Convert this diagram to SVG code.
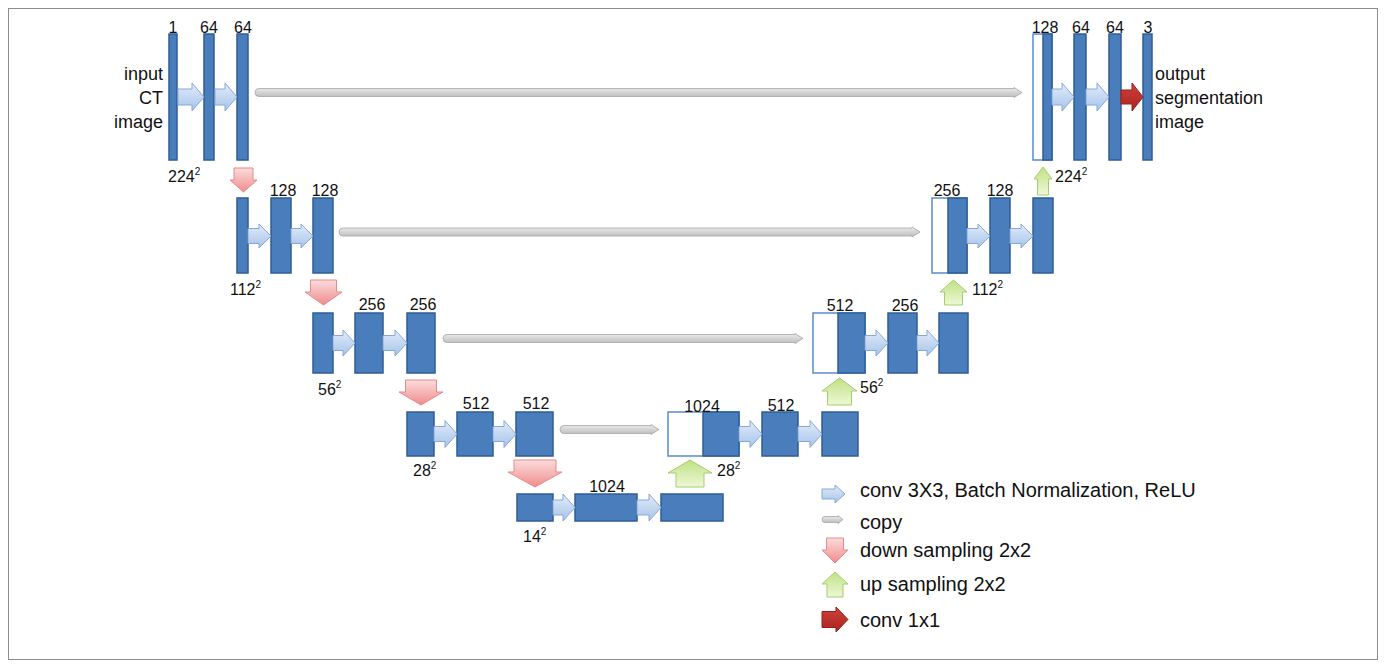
<svg xmlns="http://www.w3.org/2000/svg" width="1386" height="667" viewBox="0 0 1386 667">
<defs>
<linearGradient id="gBlue" x1="0" y1="0" x2="0" y2="1"><stop offset="0" stop-color="#e2ecf9"/><stop offset="1" stop-color="#a6c3ea"/></linearGradient>
<linearGradient id="gGray" x1="0" y1="0" x2="0" y2="1"><stop offset="0" stop-color="#ececec"/><stop offset="1" stop-color="#bcbcbc"/></linearGradient>
<linearGradient id="gRed" x1="0" y1="0" x2="0" y2="1"><stop offset="0" stop-color="#fcdcdc"/><stop offset="1" stop-color="#f08c8c"/></linearGradient>
<linearGradient id="gGreen" x1="0" y1="0" x2="0" y2="1"><stop offset="0" stop-color="#bfe184"/><stop offset="1" stop-color="#eef8d6"/></linearGradient>
<linearGradient id="gDark" x1="0" y1="0" x2="0" y2="1"><stop offset="0" stop-color="#d0403a"/><stop offset="1" stop-color="#a82420"/></linearGradient>
</defs>
<style>
.bar{fill:#4a7dbb;stroke:#2f5e96;stroke-width:1.5}
.wb{fill:#ffffff;stroke:#5b8bc9;stroke-width:1.5}
.conv{fill:url(#gBlue);stroke:#86a8d8;stroke-width:1}
.copy{fill:url(#gGray);stroke:#a6a6a6;stroke-width:0.8}
.down{fill:url(#gRed);stroke:#e58a8a;stroke-width:1}
.up{fill:url(#gGreen);stroke:#a7cd6c;stroke-width:1}
.c11{fill:url(#gDark);stroke:#9a1f1c;stroke-width:1}
text{font-family:"Liberation Sans",Arial,sans-serif;fill:#111}
.n{font-size:16px;text-anchor:middle}
.d{font-size:16px}
.s{font-size:10px}
.io{font-size:18px}
.lg{font-size:20px}
</style>
<rect x="8.5" y="8.5" width="1369" height="651" fill="#fff" stroke="#8c8c8c" stroke-width="1"/>

<!-- Level 1 left -->
<g id="n-in1"><rect class="bar" x="169" y="34" width="8" height="126"/><text class="n" x="173" y="33">1</text></g>
<g id="n-e1a"><rect class="bar" x="204" y="34" width="10" height="126"/><text class="n" x="209" y="33">64</text></g>
<g id="n-e1b"><rect class="bar" x="237" y="34" width="11" height="126"/><text class="n" x="243" y="33">64</text></g>
<g id="t-input"><text class="io" x="163" y="80" text-anchor="end">input</text><text class="io" x="163" y="104" text-anchor="end">CT</text><text class="io" x="163" y="128" text-anchor="end">image</text></g>
<g id="t-224a"><text class="d" x="168" y="182">224<tspan class="s" dy="-7">2</tspan></text></g>

<!-- Level 1 right -->
<g id="n-d1cat"><rect class="wb" x="1033" y="34" width="19" height="126"/><rect class="bar" x="1043" y="34" width="9" height="126"/><text class="n" x="1045" y="33">128</text></g>
<g id="n-d1a"><rect class="bar" x="1074" y="34" width="12" height="126"/><text class="n" x="1081" y="33">64</text></g>
<g id="n-d1b"><rect class="bar" x="1109" y="34" width="12" height="126"/><text class="n" x="1115" y="33">64</text></g>
<g id="n-out"><rect class="bar" x="1143" y="34" width="9" height="126"/><text class="n" x="1148" y="33">3</text></g>
<g id="t-output"><text class="io" x="1155" y="80">output</text><text class="io" x="1155" y="104">segmentation</text><text class="io" x="1155" y="128">image</text></g>
<g id="t-224b"><text class="d" x="1055" y="182">224<tspan class="s" dy="-7">2</tspan></text></g>

<!-- Level 2 left -->
<g id="n-e2p"><rect class="bar" x="237" y="198" width="11" height="75"/></g>
<g id="n-e2a"><rect class="bar" x="271" y="198" width="20" height="75"/><text class="n" x="283" y="196">128</text></g>
<g id="n-e2b"><rect class="bar" x="313" y="198" width="20" height="75"/><text class="n" x="325" y="196">128</text></g>
<g id="t-112a"><text class="d" x="230" y="295">112<tspan class="s" dy="-7">2</tspan></text></g>

<!-- Level 2 right -->
<g id="n-d2cat"><rect class="wb" x="932" y="198" width="35" height="75"/><rect class="bar" x="948" y="198" width="19" height="75"/><text class="n" x="947" y="196">256</text></g>
<g id="n-d2a"><rect class="bar" x="990" y="198" width="20" height="75"/><text class="n" x="1000" y="196">128</text></g>
<g id="n-d2b"><rect class="bar" x="1033" y="198" width="20" height="75"/></g>
<g id="t-112b"><text class="d" x="972" y="295">112<tspan class="s" dy="-7">2</tspan></text></g>

<!-- Level 3 left -->
<g id="n-e3p"><rect class="bar" x="313" y="313" width="20" height="60"/></g>
<g id="n-e3a"><rect class="bar" x="355" y="313" width="28" height="60"/><text class="n" x="372" y="310">256</text></g>
<g id="n-e3b"><rect class="bar" x="407" y="313" width="28" height="60"/><text class="n" x="423" y="310">256</text></g>
<g id="t-56a"><text class="d" x="318" y="395">56<tspan class="s" dy="-7">2</tspan></text></g>

<!-- Level 3 right -->
<g id="n-d3cat"><rect class="wb" x="813" y="313" width="52" height="60"/><rect class="bar" x="838" y="313" width="27" height="60"/><text class="n" x="840" y="311">512</text></g>
<g id="n-d3a"><rect class="bar" x="888" y="313" width="29" height="60"/><text class="n" x="905" y="311">256</text></g>
<g id="n-d3b"><rect class="bar" x="939" y="313" width="29" height="60"/></g>
<g id="t-56b"><text class="d" x="860" y="393">56<tspan class="s" dy="-7">2</tspan></text></g>

<!-- Level 4 left -->
<g id="n-e4p"><rect class="bar" x="407" y="412" width="27" height="44"/></g>
<g id="n-e4a"><rect class="bar" x="457" y="412" width="36" height="44"/><text class="n" x="476" y="409">512</text></g>
<g id="n-e4b"><rect class="bar" x="516" y="412" width="37" height="44"/><text class="n" x="536" y="409">512</text></g>
<g id="t-28a"><text class="d" x="413" y="476">28<tspan class="s" dy="-7">2</tspan></text></g>

<!-- Level 4 right -->
<g id="n-d4cat"><rect class="wb" x="668" y="412" width="71" height="44"/><rect class="bar" x="703" y="412" width="36" height="44"/><text class="n" x="702" y="412">1024</text></g>
<g id="n-d4a"><rect class="bar" x="762" y="412" width="36" height="44"/><text class="n" x="781" y="411">512</text></g>
<g id="n-d4b"><rect class="bar" x="822" y="412" width="36" height="44"/></g>
<g id="t-28b"><text class="d" x="717" y="476">28<tspan class="s" dy="-7">2</tspan></text></g>

<!-- Level 5 -->
<g id="n-b5p"><rect class="bar" x="517" y="494" width="36" height="27"/></g>
<g id="n-b5a"><rect class="bar" x="575" y="494" width="62" height="27"/><text class="n" x="607" y="492">1024</text></g>
<g id="n-b5b"><rect class="bar" x="661" y="494" width="62" height="27"/></g>
<g id="t-14"><text class="d" x="523" y="542">14<tspan class="s" dy="-7">2</tspan></text></g>

<!-- Connectors -->
<g id="connectors">
<!-- conv 3x3 -->
<path class="conv" d="M178,89 H192 V83 L204,97 L192,111 V105 H178 Z"/>
<path class="conv" d="M215,89 H225 V83 L237,97 L225,111 V105 H215 Z"/>
<path class="conv" d="M1052,89 H1062 V83 L1074,97 L1062,111 V105 H1052 Z"/>
<path class="conv" d="M1086,89 H1097 V83 L1109,97 L1097,111 V105 H1086 Z"/>
<path class="conv" d="M248,228.5 H259 V224 L271,236 L259,248 V243.5 H248 Z"/>
<path class="conv" d="M291,228.5 H301 V224 L313,236 L301,248 V243.5 H291 Z"/>
<path class="conv" d="M967,228.5 H978 V224 L990,236 L978,248 V243.5 H967 Z"/>
<path class="conv" d="M1010,228.5 H1021 V224 L1033,236 L1021,248 V243.5 H1010 Z"/>
<path class="conv" d="M333,335.5 H343 V330 L355,343 L343,356 V350.5 H333 Z"/>
<path class="conv" d="M383,335.5 H395 V330 L407,343 L395,356 V350.5 H383 Z"/>
<path class="conv" d="M865,335.5 H876 V330 L888,343 L876,356 V350.5 H865 Z"/>
<path class="conv" d="M917,335.5 H927 V330 L939,343 L927,356 V350.5 H917 Z"/>
<path class="conv" d="M434,426.5 H445 V420.5 L457,434 L445,447.5 V441.5 H434 Z"/>
<path class="conv" d="M493,426.5 H504 V420.5 L516,434 L504,447.5 V441.5 H493 Z"/>
<path class="conv" d="M739,426.5 H750 V420.5 L762,434 L750,447.5 V441.5 H739 Z"/>
<path class="conv" d="M798,426.5 H810 V420.5 L822,434 L810,447.5 V441.5 H798 Z"/>
<path class="conv" d="M553,500 H563 V494 L575,507.5 L563,521 V515 H553 Z"/>
<path class="conv" d="M637,500 H649 V494 L661,507.5 L649,521 V515 H637 Z"/>
<!-- conv 1x1 -->
<path class="c11" d="M1121,90 H1132 V83 L1143,97 L1132,111 V104 H1121 Z"/>
<!-- copy -->
<path class="copy" d="M259,88.5 H1014 V87.5 L1022,92.5 L1014,97.5 V96.5 H259 A4,4 0 0 1 259,88.5 Z"/>
<path class="copy" d="M343,228 H912 V227 L920,232 L912,237 V236 H343 A4,4 0 0 1 343,228 Z"/>
<path class="copy" d="M447,334.5 H795 V333.5 L803,338.5 L795,343.5 V342.5 H447 A4,4 0 0 1 447,334.5 Z"/>
<path class="copy" d="M564,425.5 H651 V424.5 L659,429.5 L651,434.5 V433.5 H564 A4,4 0 0 1 564,425.5 Z"/>
<!-- down sampling -->
<path class="down" d="M234,168 H253 V180 H257 L243.5,192 L230,180 H234 Z"/>
<path class="down" d="M310.5,280 H336.5 V292 H342 L323.5,305 L305,292 H310.5 Z"/>
<path class="down" d="M405.5,380 H436.5 V392 H443 L421,405 L399,392 H405.5 Z"/>
<path class="down" d="M514,460 H556 V472 H562 L535,487 L508,472 H514 Z"/>
<!-- up sampling -->
<path class="up" d="M1043,167 L1052,179 H1048.5 V195 H1037.5 V179 H1034 Z"/>
<path class="up" d="M953.5,280 L967,292 H962.5 V305 H944.5 V292 H940 Z"/>
<path class="up" d="M839.5,378 L857,391 H851.5 V405 H827.5 V391 H822 Z"/>
<path class="up" d="M690,460 L712,473 H704 V487 H676 V473 H668 Z"/>
</g>

<!-- Legend -->
<g id="legend">
<path class="conv" d="M822,489 H835 V485 L845,494 L835,503 V499 H822 Z"/>
<text class="lg" x="860" y="497">conv 3X3, Batch Normalization, ReLU</text>
<path class="copy" d="M825,516.5 H838 V515.5 L843,519.5 L838,523.5 V522.5 H825 A3,3 0 0 1 825,516.5 Z"/>
<text class="lg" x="860" y="529">copy</text>
<path class="down" d="M826.5,538 H843.5 V550 H848 L835,563 L822,550 H826.5 Z"/>
<text class="lg" x="860" y="557">down sampling 2x2</text>
<path class="up" d="M835,572 L848,584 H843 V597 H827 V584 H822 Z"/>
<text class="lg" x="860" y="591">up sampling 2x2</text>
<path class="c11" d="M822,611.5 H836 V607 L848,619.5 L836,632 V627.5 H822 Z"/>
<text class="lg" x="860" y="627">conv 1x1</text>
</g>
</svg>
